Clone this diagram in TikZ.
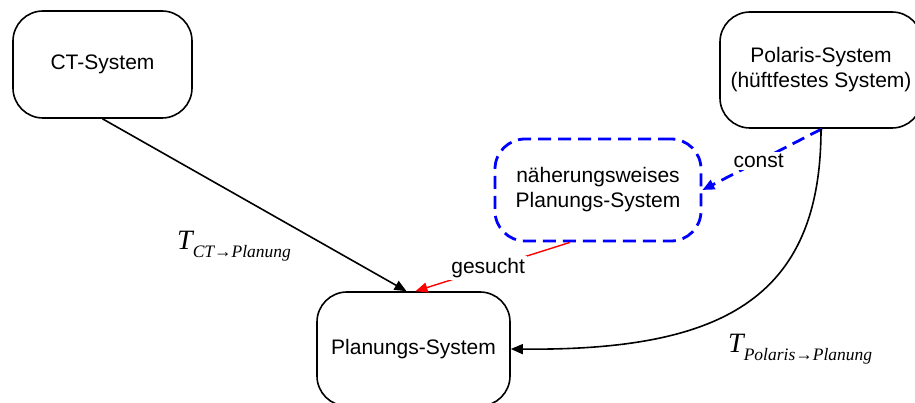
\documentclass[tikz,border=0pt]{standalone}
\usepackage{fontspec}
\setmainfont{Liberation Sans}
\newfontfamily\tmsf{Liberation Serif}
\usetikzlibrary{arrows.meta,calc}
\tikzset{
  sysbox/.style={draw=black, line width=1.6pt, rounded corners=30pt, align=center,
    font=\fontsize{21}{25}\selectfont, inner sep=0pt},
  approxbox/.style={draw=blue, line width=2.8pt, dash pattern=on 13pt off 7pt,
    rounded corners=30pt, align=center, font=\fontsize{21}{25}\selectfont, inner sep=0pt},
  conn/.style={line width=1.6pt, -{Triangle[length=12pt,width=10pt]}},
  lbl/.style={fill=white, inner sep=2pt, font=\fontsize{21}{25}\selectfont},
  mathlbl/.style={anchor=base west, inner sep=0pt}
}
\newcommand{\Tlabel}[1]{{\fontsize{28}{28}\selectfont\tmsf\itshape T}{\fontsize{17.5}{17.5}\selectfont\raisebox{-8pt}{\tmsf\itshape #1}}}
\begin{document}
\begin{tikzpicture}[x=1pt,y=-1pt]
\useasboundingbox (0,0) rectangle (915,403);
\node[sysbox, minimum width=179pt, minimum height=107pt] (ct) at (102.5,64.5) {CT-System};
\node[sysbox, minimum width=202pt, minimum height=116pt] (pol) at (821,70) {Polaris-System\\(hüftfestes System)};
\node[approxbox, minimum width=206pt, minimum height=102pt] (appr) at (598,190) {näherungsweises\\Planungs-System};
\node[sysbox, minimum width=193pt, minimum height=114pt] (plan) at (413.5,349) {Planungs-System};
% connectors
\draw[conn] (ct.south) -- ($(plan.north)+(-7,0)$);
\draw[conn, red, line width=1.4pt] ($(appr.south)+(-28,0)$) -- node[lbl, text=black, pos=0.53] (ges) {gesucht} ($(plan.north)+(2,0)$);
\draw[conn, blue, line width=2.8pt, dash pattern=on 13pt off 7pt] ($(pol.south)+(1,0)$) -- node[lbl, text=black, pos=0.53] (cst) {const} (appr.east);
\draw[conn] (pol.south) .. controls (821,300) and (720,351) .. (plan.east);
% labels
\node[mathlbl] (tct) at (177,250) {\Tlabel{CT\upshape→\itshape Planung}};
\node[mathlbl] (tpol) at (728,352) {\Tlabel{Polaris\upshape→\itshape Planung}};
\end{tikzpicture}
\end{document}
